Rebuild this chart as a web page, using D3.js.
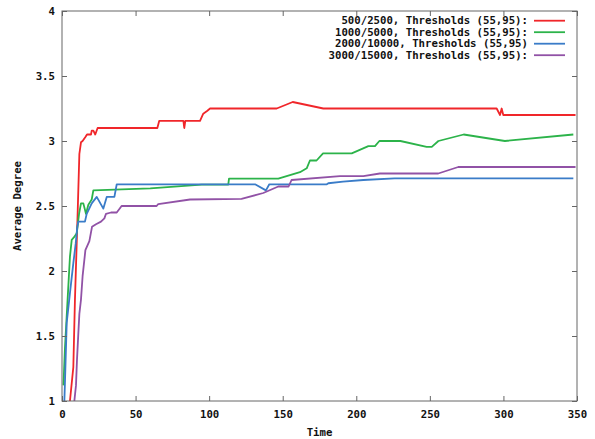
<!DOCTYPE html>
<html>
<head>
<meta charset="utf-8">
<script src="https://cdn.jsdelivr.net/npm/d3@7"></script>
<style>
  body { margin: 0; background: #fff; }
  text { font-family: "DejaVu Sans Mono", monospace; font-weight: bold; font-size: 10.7px; fill: #111; }
</style>
</head>
<body>
<svg id="svg"></svg>
<script>
// values (time, average degree)
const redT = [5.4, 7.7, 8.8, 10.7, 11.8, 12.9, 14, 15.9, 17, 19.7, 20.2, 21.3, 22.6, 24.2, 64.8, 66.1, 82.5, 83.1, 83.8, 93.8, 96, 98.8, 100.6, 145.9, 156.8, 177.6, 295.4, 297.7, 298.8, 299.9, 349]
const redV = [1.0, 1.26, 1.78, 2.47, 2.9, 2.99, 3.0, 3.03, 3.05, 3.05, 3.08, 3.08, 3.05, 3.1, 3.1, 3.155, 3.155, 3.1, 3.155, 3.155, 3.21, 3.233, 3.25, 3.25, 3.3, 3.25, 3.25, 3.2, 3.25, 3.2, 3.2]

const greenT = [1.0, 2.0, 3.8, 5.4, 6.6, 8.2, 10, 11.6, 12.9, 14.5, 16.3, 17.9, 20.2, 21.3, 60, 95, 113, 113.5, 147, 161.7, 166.3, 168.5, 173, 177.4, 196.9, 208.2, 212.7, 215.7, 230, 247.8, 251.3, 255.8, 273, 301, 347.5]
const greenV = [1.12, 1.405, 1.78, 2.11, 2.24, 2.26, 2.29, 2.44, 2.52, 2.52, 2.44, 2.51, 2.55, 2.62, 2.635, 2.665, 2.665, 2.71, 2.71, 2.76, 2.79, 2.85, 2.85, 2.905, 2.905, 2.96, 2.96, 3.0, 3.0, 2.955, 2.955, 3.0, 3.05, 3.0, 3.05]

const blueT = [1.6, 2.0, 3.2, 5.4, 7.7, 9.3, 10.4, 11.1, 15.6, 16.8, 20.2, 23.6, 28.1, 30.4, 35.6, 37.2, 131.2, 138.6, 140.9, 180, 181, 191, 204.8, 226, 347.5]
const blueV = [1.0, 1.14, 1.6, 1.83, 2.06, 2.21, 2.34, 2.38, 2.38, 2.44, 2.52, 2.57, 2.48, 2.57, 2.57, 2.667, 2.667, 2.62, 2.667, 2.667, 2.675, 2.687, 2.70, 2.713, 2.713]

const purpleT = [8.4, 9.5, 10.2, 11.1, 11.8, 12.9, 14, 15.9, 18.6, 20.4, 23.1, 26.5, 28.8, 29.9, 33.3, 37.2, 40.5, 64.3, 65.4, 87, 122, 136.8, 147, 154, 156, 188.9, 204.8, 216, 255.7, 269.3, 349]
const purpleV = [1.0, 1.12, 1.32, 1.52, 1.67, 1.78, 1.96, 2.16, 2.23, 2.34, 2.36, 2.38, 2.405, 2.44, 2.45, 2.45, 2.5, 2.5, 2.515, 2.55, 2.555, 2.60, 2.65, 2.65, 2.70, 2.73, 2.73, 2.75, 2.75, 2.80, 2.80]

const seriesNames = ["500/2500, Thresholds (55,95):", "1000/5000, Thresholds (55,95):", "2000/10000, Thresholds (55,95)", "3000/15000, Thresholds (55,95):"]
const seriesColors = ["#f0262a", "#2cb34a", "#3a7cc8", "#9152a6"]
const xTicks = [0, 50, 100, 150, 200, 250, 300, 350]
const yTicks = [1, 1.5, 2, 2.5, 3, 3.5, 4]

const series = [[redT, redV], [greenT, greenV], [blueT, blueV], [purpleT, purpleV]]
  .map(([ts, vs], i) => ({ name: seriesNames[i], color: seriesColors[i], pts: ts.map((t, j) => [t, vs[j]]) }))

const svg = d3.select("#svg").attr("width", 595).attr("height", 439)

const x = d3.scaleLinear().domain([0, 350]).range([62, 577])
const y = d3.scaleLinear().domain([1, 4]).range([401, 11])

const line = d3.line().x(d => x(d[0])).y(d => y(d[1]))

// lines
svg.append("g")
  .selectAll("path")
  .data(series)
  .enter()
  .append("path")
  .attr("d", d => line(d.pts))
  .attr("fill", "none")
  .attr("stroke", d => d.color)
  .attr("stroke-width", 1.8)
  .attr("stroke-linejoin", "round")

// axes, ticks pointing inwards and mirrored
const axisColor = "#666"
function styleAxis(g, showText) {
  g.select(".domain").remove()
  g.selectAll("line").attr("stroke", axisColor)
  g.selectAll("text").attr("fill", "#111").style("font-size", "10.7px")
  if (!showText) g.selectAll("text").remove()
}

svg.append("g").attr("transform", "translate(0,401)")
  .call(d3.axisBottom(x).tickValues(xTicks).tickFormat(d3.format("d")).tickSize(-5).tickPadding(9))
  .call(g => styleAxis(g, true))
svg.append("g").attr("transform", "translate(0,11)")
  .call(d3.axisTop(x).tickValues(xTicks).tickSize(-5))
  .call(g => styleAxis(g, false))
svg.append("g").attr("transform", "translate(62,0)")
  .call(d3.axisLeft(y).tickValues(yTicks).tickFormat(d3.format("")).tickSize(-5).tickPadding(7))
  .call(g => styleAxis(g, true))
svg.append("g").attr("transform", "translate(577,0)")
  .call(d3.axisRight(y).tickValues(yTicks).tickSize(-5))
  .call(g => styleAxis(g, false))

// frame
svg.append("rect")
  .attr("x", 62).attr("y", 11)
  .attr("width", 577 - 62).attr("height", 401 - 11)
  .attr("fill", "none")
  .attr("stroke", axisColor)
  .attr("stroke-width", 1)

// axis titles
svg.append("text")
  .attr("x", (62 + 577) / 2).attr("y", 436)
  .attr("text-anchor", "middle")
  .text("Time")
svg.append("text")
  .attr("transform", `translate(21,${(11 + 401) / 2}) rotate(-90)`)
  .attr("text-anchor", "middle")
  .text("Average Degree")

// legend
const legend = svg.append("g")
  .selectAll("g")
  .data(series)
  .enter()
  .append("g")
  .attr("transform", (d, i) => `translate(0,${20.7 + i * 11.5})`)

legend.append("text")
  .attr("x", 528).attr("y", 0).attr("dy", "0.35em")
  .attr("text-anchor", "end")
  .text(d => d.name)
legend.append("line")
  .attr("x1", 534).attr("x2", 565)
  .attr("stroke", d => d.color)
  .attr("stroke-width", 1.8)
</script>
</body>
</html>
